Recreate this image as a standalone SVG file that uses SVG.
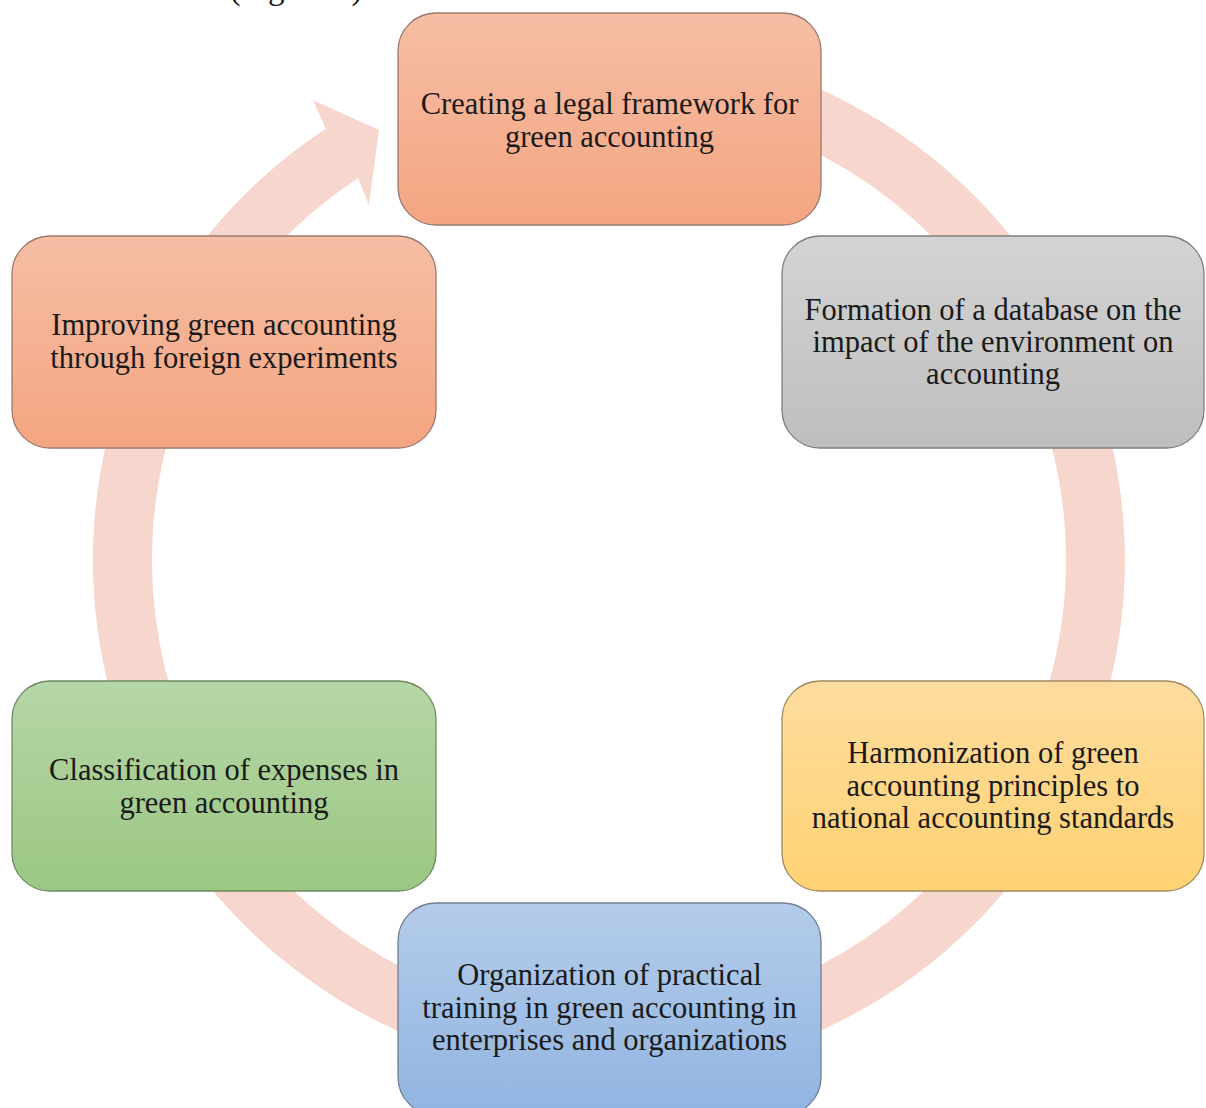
<svg xmlns="http://www.w3.org/2000/svg" width="1206" height="1108" viewBox="0 0 1206 1108">
<defs>
<linearGradient id="gSalmon" x1="0" y1="0" x2="0" y2="1"><stop offset="0" stop-color="#F6BEA5"/><stop offset="1" stop-color="#F4A581"/></linearGradient>
<linearGradient id="gGray" x1="0" y1="0" x2="0" y2="1"><stop offset="0" stop-color="#D4D4D4"/><stop offset="1" stop-color="#BEBEBE"/></linearGradient>
<linearGradient id="gYellow" x1="0" y1="0" x2="0" y2="1"><stop offset="0" stop-color="#FEDC9E"/><stop offset="1" stop-color="#FFD273"/></linearGradient>
<linearGradient id="gBlue" x1="0" y1="0" x2="0" y2="1"><stop offset="0" stop-color="#B4CCEA"/><stop offset="1" stop-color="#91B4E1"/></linearGradient>
<linearGradient id="gGreen" x1="0" y1="0" x2="0" y2="1"><stop offset="0" stop-color="#B5D6A6"/><stop offset="1" stop-color="#9CC783"/></linearGradient>
</defs>
<style>
.box{stroke-width:1.3}
.lbl{font-family:"Liberation Serif","Times New Roman",serif;font-size:30.5px;fill:#1a1a1a;text-anchor:middle}
.ring{fill:#F7D7CD}
</style>
<rect width="1206" height="1108" fill="#ffffff"/>
<text x="296" y="-1.5" class="lbl" style="font-size:33px">(Figure 1)</text>
<g id="connectors">
<path class="ring" d="M654,46 A516,516 0 1 1 325.7,128.7 L313,100 L379,130 L369,205 L358.1,178 A457,457 0 1 0 648.8,104.7 Z"/>
</g>
<g id="node1">
<rect class="box" x="398" y="13" width="423" height="212" rx="38" fill="url(#gSalmon)" stroke="#9a7a6c"/>
<text class="lbl" x="609.5"><tspan x="609.5" y="114">Creating a legal framework for</tspan><tspan x="609.5" y="147">green accounting</tspan></text>
</g>
<g id="node2">
<rect class="box" x="782" y="236" width="422" height="212" rx="38" fill="url(#gGray)" stroke="#7f7f7f"/>
<text class="lbl"><tspan x="993" y="320">Formation of a database on the</tspan><tspan x="993" y="352">impact of the environment on</tspan><tspan x="993" y="384">accounting</tspan></text>
</g>
<g id="node3">
<rect class="box" x="782" y="681" width="422" height="210" rx="38" fill="url(#gYellow)" stroke="#a08a60"/>
<text class="lbl"><tspan x="993" y="763">Harmonization of green</tspan><tspan x="993" y="796">accounting principles to</tspan><tspan x="993" y="828">national accounting standards</tspan></text>
</g>
<g id="node4">
<rect class="box" x="398" y="903" width="423" height="212" rx="38" fill="url(#gBlue)" stroke="#6f7f95"/>
<text class="lbl"><tspan x="609.5" y="985">Organization of practical</tspan><tspan x="609.5" y="1018">training in green accounting in</tspan><tspan x="609.5" y="1050">enterprises and organizations</tspan></text>
</g>
<g id="node5">
<rect class="box" x="12" y="681" width="424" height="210" rx="38" fill="url(#gGreen)" stroke="#6f8a62"/>
<text class="lbl"><tspan x="224" y="780">Classification of expenses in</tspan><tspan x="224" y="813">green accounting</tspan></text>
</g>
<g id="node6">
<rect class="box" x="12" y="236" width="424" height="212" rx="38" fill="url(#gSalmon)" stroke="#9a7a6c"/>
<text class="lbl"><tspan x="224" y="335">Improving green accounting</tspan><tspan x="224" y="368">through foreign experiments</tspan></text>
</g>
</svg>
